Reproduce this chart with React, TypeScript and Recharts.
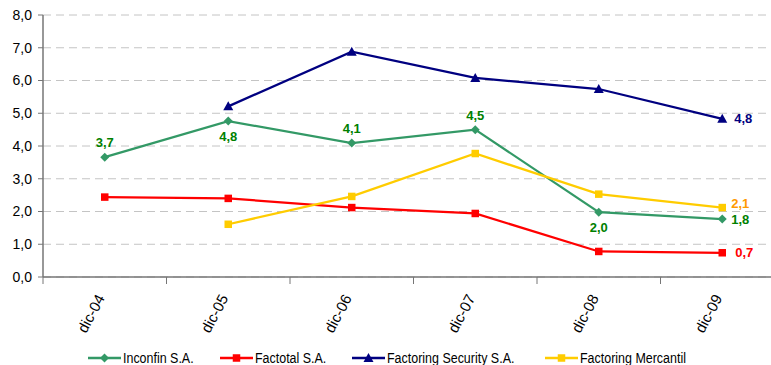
import React from 'react';
import { LineChart, Line, XAxis, YAxis, CartesianGrid, Legend, LabelList } from 'recharts';

// ---- data ----
const categories = ['dic-04', 'dic-05', 'dic-06', 'dic-07', 'dic-08', 'dic-09'];
const inconfin = [3.66, 4.76, 4.09, 4.5, 1.98, 1.77];
const factotal = [2.44, 2.4, 2.12, 1.94, 0.78, 0.74];
const security: (number | null)[] = [null, 5.21, 6.88, 6.08, 5.74, 4.83];
const mercantil: (number | null)[] = [null, 1.61, 2.46, 3.77, 2.53, 2.12];
const yTicks = [0, 1, 2, 3, 4, 5, 6, 7, 8];
const seriesNames = ['Inconfin S.A.', 'Factotal S.A.', 'Factoring Security S.A.', 'Factoring Mercantil'];

// ---- styles ----
const FONT = "'Liberation Sans', Arial, sans-serif";
const AXIS = '#767676';
const inconfinLabelPos = ['top', 'bottom', 'top', 'top', 'bottom', 'right'];

type Shape = 'diamond' | 'square' | 'triangle';
const series = [
  { key: 'inconfin', name: seriesNames[0], color: '#339966', labelColor: '#008000', shape: 'diamond' as Shape, labels: 'all', rdx: 9, rdy: 4.5 },
  { key: 'factotal', name: seriesNames[1], color: '#FF0000', labelColor: '#FF0000', shape: 'square' as Shape, labels: 'last', rdx: 13, rdy: 4.5 },
  { key: 'security', name: seriesNames[2], color: '#000080', labelColor: '#000080', shape: 'triangle' as Shape, labels: 'last', rdx: 12, rdy: 4.5 },
  { key: 'mercantil', name: seriesNames[3], color: '#FFCC00', labelColor: '#FF9900', shape: 'square' as Shape, labels: 'last', rdx: 9, rdy: 0.5 },
];
const legendWidths = [132, 132, 193, 150];

const data = categories.map((c, i) => ({
  pos: i + 0.5,
  cat: c,
  inconfin: inconfin[i],
  factotal: factotal[i],
  security: security[i],
  mercantil: mercantil[i],
}));
const xTicks = Array.from({ length: categories.length * 2 + 1 }, (_, k) => k / 2);

const fmt = (v: number) => v.toFixed(1).replace('.', ',');

function Marker({ shape, cx, cy, color }: { shape: Shape; cx: number; cy: number; color: string }) {
  if (shape === 'diamond') {
    const r = 4.5;
    return <polygon points={`${cx},${cy - r} ${cx + r},${cy} ${cx},${cy + r} ${cx - r},${cy}`} fill={color} />;
  }
  if (shape === 'triangle') {
    return <polygon points={`${cx},${cy - 5} ${cx + 5},${cy + 4} ${cx - 5},${cy + 4}`} fill={color} />;
  }
  return <rect x={cx - 3.75} y={cy - 3.75} width={7.5} height={7.5} fill={color} />;
}

const makeDot = (shape: Shape, color: string) => (props: any) => {
  const { cx, cy, value, index } = props;
  if (value == null || cx == null || cy == null) return <g key={`d${index}`} />;
  return (
    <g key={`d${index}`}>
      <Marker shape={shape} cx={cx} cy={cy} color={color} />
    </g>
  );
};

const makeLabel = (s: typeof series[number]) => (props: any) => {
  const { x, y, value, index } = props;
  if (value == null || x == null || y == null) return null;
  const last = index === categories.length - 1;
  let pos = 'right';
  if (s.labels === 'all') pos = inconfinLabelPos[index];
  else if (!last) return null;
  const common = { fontFamily: FONT, fontSize: 13, fontWeight: 700, fill: s.labelColor } as any;
  if (pos === 'top') return <text key={`l${index}`} x={x} y={y - 10} textAnchor="middle" {...common}>{fmt(value)}</text>;
  if (pos === 'bottom') return <text key={`l${index}`} x={x} y={y + 20} textAnchor="middle" {...common}>{fmt(value)}</text>;
  return <text key={`l${index}`} x={x + s.rdx} y={y + s.rdy} textAnchor="start" {...common}>{fmt(value)}</text>;
};

const XTick = (props: any) => {
  const { x, y, payload } = props;
  const v = payload.value as number;
  if (Number.isInteger(v)) {
    return <line x1={x} y1={y} x2={x} y2={y + 7} stroke={AXIS} strokeWidth={1} />;
  }
  const label = categories[Math.floor(v)];
  const ax = x + 0.5;
  const ay = y + 21;
  return (
    <text x={ax} y={ay} transform={`rotate(-62 ${ax} ${ay})`} textAnchor="end" fontSize={15} fontFamily={FONT} fill="#000">
      {label}
    </text>
  );
};

const LegendContent = () => (
  <div style={{ display: 'flex', paddingLeft: 88, fontFamily: FONT, fontSize: 14, color: '#000' }}>
    {series.map((s, i) => (
      <div key={s.key} style={{ display: 'flex', alignItems: 'center', width: legendWidths[i], whiteSpace: 'nowrap' }}>
        <svg width={34} height={12} style={{ display: 'block', flex: 'none' }}>
          <line x1={0} y1={6} x2={33} y2={6} stroke={s.color} strokeWidth={2.5} />
          <Marker shape={s.shape} cx={16.5} cy={6} color={s.color} />
        </svg>
        <span style={{ marginLeft: 1, display: 'inline-block', transform: 'scaleX(0.89)', transformOrigin: 'left center' }}>{s.name}</span>
      </div>
    ))}
  </div>
);

export default function App() {
  return (
    <div style={{ position: 'fixed', left: 0, top: 0, width: 771, height: 365, overflow: 'hidden', background: '#fff', fontFamily: FONT }}>
      <LineChart width={790} height={365} data={data} margin={{ top: 15, right: 6, bottom: 0, left: 0 }}>
        <CartesianGrid vertical={false} strokeDasharray="8 5" stroke="#C4C4C4" />
        <XAxis
          dataKey="pos"
          type="number"
          domain={[0, 6]}
          ticks={xTicks}
          interval={0}
          tickLine={false}
          tickSize={0}
          tickMargin={0}
          tick={<XTick />}
          height={88}
          axisLine={{ stroke: AXIS, strokeWidth: 1.5 }}
          allowDataOverflow
        />
        <YAxis
          type="number"
          domain={[0, 8]}
          ticks={yTicks}
          interval={0}
          width={43}
          tickSize={5}
          tickMargin={6}
          tickFormatter={(v: number) => fmt(v)}
          tick={{ fontSize: 14, fill: '#000', fontFamily: FONT }}
          axisLine={{ stroke: AXIS, strokeWidth: 1.5 }}
          tickLine={{ stroke: AXIS }}
        />
        {series.map((s) => (
          <Line
            key={s.key}
            dataKey={s.key}
            name={s.name}
            stroke={s.color}
            strokeWidth={2.25}
            dot={makeDot(s.shape, s.color)}
            activeDot={false}
            isAnimationActive={false}
            connectNulls={false}
          >
            <LabelList dataKey={s.key} content={makeLabel(s)} />
          </Line>
        ))}
        <Legend
          content={() => <LegendContent />}
          wrapperStyle={{ position: 'absolute', left: 0, top: 350, width: 771, height: 0, bottom: 'auto' }}
        />
      </LineChart>
    </div>
  );
}
